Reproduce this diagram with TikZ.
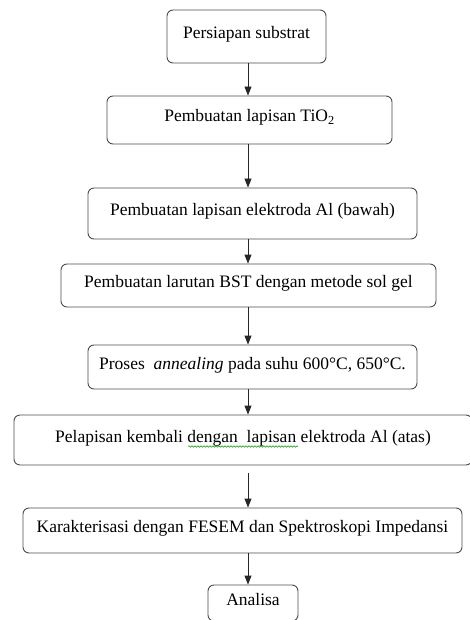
\documentclass[tikz,border=0pt]{standalone}
\usepackage{fontspec}
\setmainfont{Liberation Serif}
\usepackage{tikz}
\usetikzlibrary{arrows.meta,decorations.pathmorphing}

\tikzset{
    stepbox/.style={draw=black!70, line width=0.9pt, rounded corners=6pt,
        inner sep=0pt, align=center, text height=12pt, text depth=8pt,
        font=\fontsize{17.5}{21}\selectfont},
    flow/.style={draw=black!85, line width=0.9pt, -{Triangle[width=7pt,length=9pt]}}
}

\begin{document}
\begin{tikzpicture}[x=1pt, y=-1pt]
        \useasboundingbox (0, 0) rectangle (469, 620);

        % langkah-langkah
        \node[stepbox, minimum width=159pt, minimum height=53pt] (subs) at (246.5, 36.5) {Persiapan substrat};
        \node[stepbox, minimum width=285pt, minimum height=48pt] (tio) at (249.5, 120) {Pembuatan lapisan TiO\textsubscript{2}};
        \node[stepbox, minimum width=329pt, minimum height=51pt] (bawah) at (252.5, 213.5) {Pembuatan lapisan elektroda Al (bawah)};
        \node[stepbox, minimum width=375pt, minimum height=43pt] (bst) at (248.5, 285.5) {Pembuatan larutan BST dengan metode sol gel};
        \node[stepbox, minimum width=329pt, minimum height=44pt] (anneal) at (252.5, 367) {Proses\ \ \textit{annealing} pada suhu 600°C, 650°C.};
        \node[stepbox, minimum width=458pt, minimum height=50pt] (atas) at (243, 440) {Pelapisan kembali dengan\ \ lapisan elektroda Al (atas)};
        \node[stepbox, minimum width=439pt, minimum height=45pt] (fesem) at (242.5, 530.5) {Karakterisasi dengan FESEM dan Spektroskopi Impedansi};
        \node[stepbox, minimum width=90pt, minimum height=36pt] (analisa) at (253, 603) {Analisa};

        \coordinate (axis) at (248, 0);

        \draw[flow] (axis |- subs.south) -- (axis |- tio.north);
        \draw[flow] (axis |- tio.south) -- (axis |- bawah.north);
        \draw[flow] (axis |- bawah.south) -- (axis |- bst.north);
        \draw[flow] (axis |- bst.south) -- (axis |- anneal.north);
        \draw[flow] (axis |- anneal.south) -- (axis |- atas.north);
        \draw[flow, shorten <=8pt] (axis |- atas.south) -- (axis |- fesem.north);
        \draw[flow] (axis |- fesem.south) -- (axis |- analisa.north);

        % garis ejaan
        \draw[green!60!black, line width=0.5pt, decorate,
            decoration={snake, amplitude=0.8pt, segment length=3pt}] (188, 446.5) -- (298, 446.5);
    \end{tikzpicture}
\end{document}
